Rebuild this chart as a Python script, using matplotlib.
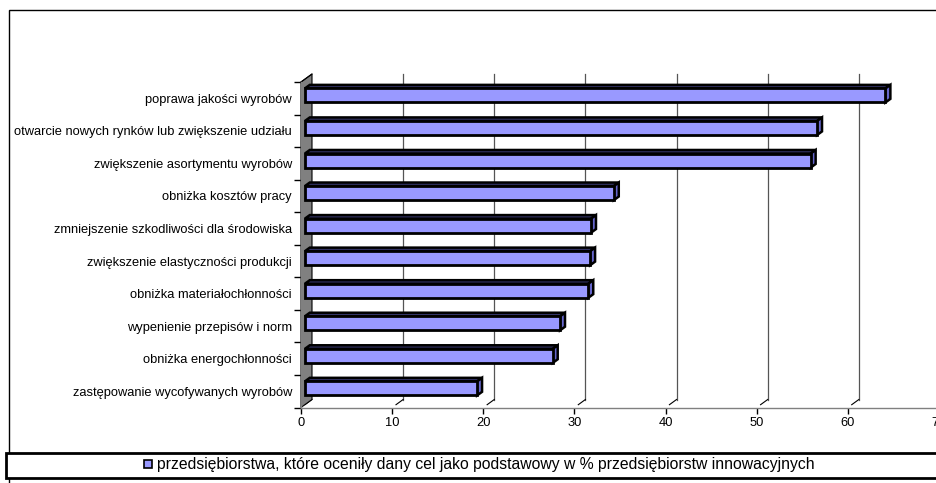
import matplotlib
matplotlib.use("Agg")
import matplotlib.pyplot as plt
from matplotlib.patches import Polygon, Rectangle

plt.rcParams['font.family'] = ['Liberation Sans', 'DejaVu Sans']

# cele działalności innowacyjnej
cele = [
    "poprawa jakości wyrobów",
    "otwarcie nowych rynków lub zwiększenie udziału",
    "zwiększenie asortymentu wyrobów",
    "obniżka kosztów pracy",
    "zmniejszenie szkodliwości dla środowiska",
    "zwiększenie elastyczności produkcji",
    "obniżka materiałochłonności",
    "wypenienie przepisów i norm",
    "obniżka energochłonności",
    "zastępowanie wycofywanych wyrobów",
]
procent = [63.7, 56.2, 55.5, 33.9, 31.4, 31.3, 31.1, 28.0, 27.2, 18.9]
x_ticks = [0, 10, 20, 30, 40, 50, 60, 70]
legenda = "przedsiębiorstwa, które oceniły dany cel jako podstawowy w % przedsiębiorstw innowacyjnych"

W, H = 937, 483
fig = plt.figure(figsize=(W / 100, H / 100), dpi=100)

# obszar wykresu w pikselach (płaszczyzna przednia)
px_l, px_r, px_t, px_b = 301, 939, 82, 407.5
ax = fig.add_axes([px_l / W, (H - px_b) / H, (px_r - px_l) / W, (px_b - px_t) / H])
n = len(cele)
ax.set_xlim(0, 70)
ax.set_ylim(n - 0.5, -0.5)

kx = 70 / (px_r - px_l)      # jednostki danych na piksel (x)
ky = n / (px_b - px_t)       # jednostki danych na piksel (y, w górę = minus)

# głębokość efektu 3D
wall_dx, wall_dy = 11 * kx, -8 * ky
f_front, f_back = 0.35, 0.8

# ściana boczna (szara)
wall = Polygon([(0, -0.5), (wall_dx, -0.5 + wall_dy), (wall_dx, n - 0.5 + wall_dy), (0, n - 0.5)],
               closed=True, facecolor="#808080", edgecolor="black", lw=0.8, clip_on=False, zorder=1)
ax.add_patch(wall)

# linie siatki na tylnej ścianie i skosy na podłodze
for t in x_ticks[1:]:
    ax.plot([t + wall_dx, t + wall_dx], [-0.5 + wall_dy, n - 0.5 + wall_dy],
            color="#555555", lw=0.9, clip_on=False, zorder=0)
for t in x_ticks:
    ax.plot([t + f_front * wall_dx, t + wall_dx], [n - 0.5 + f_front * wall_dy, n - 0.5 + wall_dy],
            color="black", lw=0.8, clip_on=False, zorder=0)
ax.plot([0, wall_dx], [-0.5, -0.5 + wall_dy], color="black", lw=0.8, clip_on=False)

# słupki 3D
h = 14 * ky
sx0, sy0 = f_front * wall_dx, f_front * wall_dy
bdx, bdy = (f_back - f_front) * wall_dx, (f_back - f_front) * wall_dy
for i, v in enumerate(procent):
    y_top = i - h / 2 + sy0
    y_bot = i + h / 2 + sy0
    x0, x1 = sx0, v + sx0
    top = Polygon([(x0, y_top), (x0 + bdx, y_top + bdy), (x1 + bdx, y_top + bdy), (x1, y_top)],
                  closed=True, facecolor="#333366", edgecolor="black", lw=1.8, zorder=3)
    side = Polygon([(x1, y_top), (x1 + bdx, y_top + bdy), (x1 + bdx, y_bot + bdy), (x1, y_bot)],
                   closed=True, facecolor="#6666CC", edgecolor="black", lw=1.8, zorder=3)
    front = Rectangle((x0, y_top), v, h, facecolor="#9999FF", edgecolor="black", lw=2.0, zorder=4)
    for p in (top, side, front):
        p.set_clip_on(False)
        ax.add_patch(p)

# osie
for s in ("top", "right", "left"):
    ax.spines[s].set_visible(False)
ax.spines["bottom"].set_color("#808080")
ax.spines["bottom"].set_linewidth(1.0)
ax.plot([0, 0], [-0.5, n - 0.5], color="#808080", lw=1.0, clip_on=False, zorder=2)

ax.set_xticks(x_ticks)
ax.set_xticklabels([str(t) for t in x_ticks])
ax.tick_params(axis="x", direction="out", length=4, width=1, color="black", pad=3, labelsize=9.3)

ax.set_yticks([k - 0.5 for k in range(n + 1)])
ax.set_yticklabels([])
ax.tick_params(axis="y", which="major", direction="out", length=5, width=1, color="black")
ax.set_yticks(range(n), minor=True)
ax.set_yticklabels(cele, minor=True)
ax.tick_params(axis="y", which="minor", length=0, pad=6.5, labelsize=9.3)


def fig_px(x, y):
    return x / W, 1 - y / H


# ramka obszaru wykresu
fig.patches.append(Rectangle(fig_px(9, 490), (940 - 9) / W, (490 - 10) / H,
                             transform=fig.transFigure, fill=False, edgecolor="black", lw=1.0))

# legenda
fig.patches.append(Rectangle(fig_px(6, 477.5), (945 - 6) / W, (477.5 - 452.5) / H,
                             transform=fig.transFigure, facecolor="white", edgecolor="black", lw=2.0))
fig.patches.append(Rectangle(fig_px(144, 468), 8 / W, 8 / H,
                             transform=fig.transFigure, facecolor="#9999FF", edgecolor="black", lw=1.2))
fig.text(157 / W, 1 - 464.5 / H, legenda, ha="left", va="center", fontsize=11.3)

fig.savefig("out.png", dpi=100)
